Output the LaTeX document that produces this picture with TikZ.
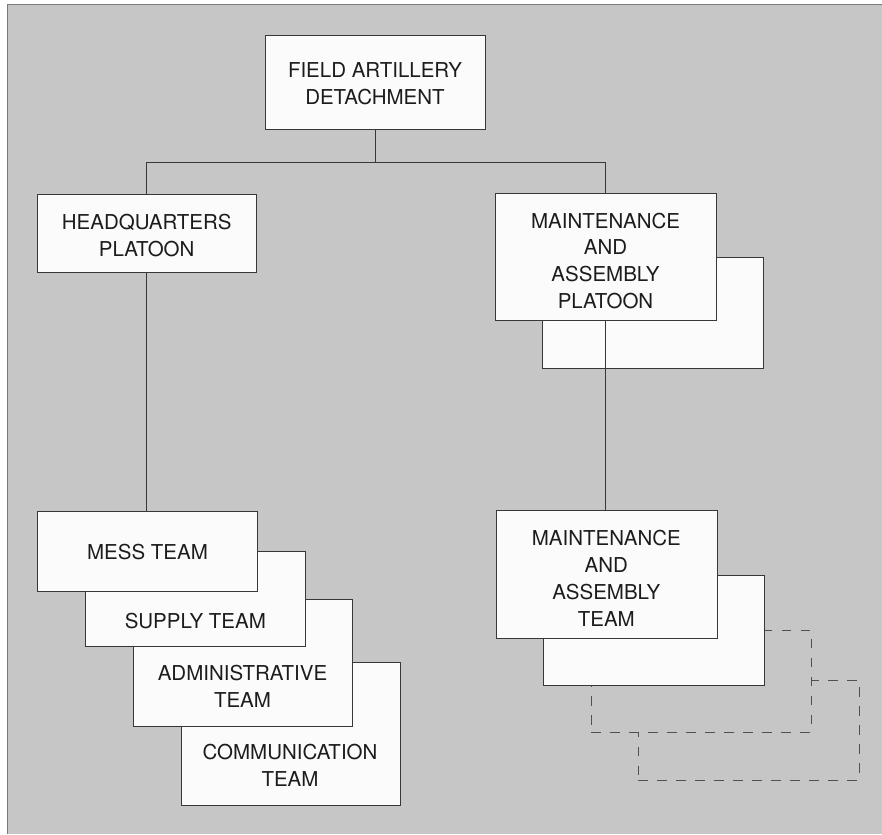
\documentclass[tikz,border=0pt]{standalone}
\usepackage{fontspec}
\setmainfont{TeX Gyre Heros}
\definecolor{bg}{HTML}{C6C6C6}
\definecolor{boxfill}{HTML}{FBFBFB}
\definecolor{linec}{HTML}{383838}
\definecolor{dashc}{HTML}{505050}
\definecolor{textc}{HTML}{1C1C1C}
\definecolor{framec}{HTML}{7A7A7A}
\tikzset{
  box/.style={draw=linec, fill=boxfill, line width=0.9pt, inner sep=0pt, outer sep=0pt},
  ghost/.style={draw=dashc, fill=bg, line width=1pt, dash pattern=on 9.5pt off 9.5pt, inner sep=0pt, outer sep=0pt},
  label/.style={text=textc, align=center, inner sep=0pt, font=\fontsize{20.5}{26.7}\selectfont},
  conn/.style={draw=linec, line width=0.9pt},
}
\begin{document}
\begin{tikzpicture}[x=1pt,y=-1pt]
\useasboundingbox (0,0) rectangle (882,834);
\fill[white] (0,0) rectangle (882,834);
\fill[bg] (7,5) rectangle (882,834);
\draw[framec, line width=1pt] (7,834) -- (7,5) -- (882,5);

% dashed (phantom) team boxes
\node[ghost, minimum width=220.7pt, minimum height=100pt] (ghostb) at (748.7,730) {};
\node[ghost, minimum width=220pt, minimum height=102pt] (ghosta) at (701,681) {};

% back boxes on the right
\node[box, minimum width=220.6pt, minimum height=110.6pt] (mapb) at (653,313) {};
\node[box, minimum width=221pt, minimum height=110.7pt] (matb) at (653.8,630.4) {};

% stacked team boxes on the left
\node[box, minimum width=218.3pt, minimum height=142.3pt] (comm) at (290.8,733.8) {};
\node[box, minimum width=219.4pt, minimum height=126.7pt] (admin) at (243,662.7) {};
\node[box, minimum width=219.7pt, minimum height=95.7pt] (supply) at (195.2,598.8) {};
\node[box, minimum width=219.3pt, minimum height=80pt] (mess) at (147.3,551.7) {};

% main boxes (geometry only; connectors need their names)
\coordinate (bus) at (0,162);
\path (375,82.5) node[minimum width=220pt, minimum height=93.5pt, inner sep=0pt, outer sep=0pt] (fad) {};
\path (146.75,233) node[minimum width=218.5pt, minimum height=78pt, inner sep=0pt, outer sep=0pt] (hq) {};
\path (605.5,256.7) node[minimum width=221pt, minimum height=126.7pt, inner sep=0pt, outer sep=0pt] (map) {};
\path (606.7,574.5) node[minimum width=221.3pt, minimum height=127.6pt, inner sep=0pt, outer sep=0pt] (mat) {};

% connectors
\draw[conn] (fad.south) -- (fad.south |- bus);
\draw[conn] (hq.north) -- (hq.north |- bus) -- (map.north |- bus) -- (map.north);
\draw[conn] (hq.south) -- (hq.south |- mess.north);
\draw[conn] (map.south) -- (map.south |- mat.north);

% front boxes
\node[box, minimum width=220pt, minimum height=93.5pt] (fadbox) at (fad) {};
\node[box, minimum width=218.5pt, minimum height=78pt] (hqbox) at (hq) {};
\node[box, minimum width=221pt, minimum height=126.7pt] (mapbox) at (map) {};
\node[box, minimum width=221.3pt, minimum height=127.6pt] (matbox) at (mat) {};

% texts
\node[label] (fadt) at (375,83.7) {FIELD ARTILLERY\\DETACHMENT};
\node[label] (hqt) at (146.7,235.3) {HEADQUARTERS\\PLATOON};
\node[label] (mapt) at (605.5,260.7) {MAINTENANCE\\AND\\ASSEMBLY\\PLATOON};
\node[label] (matt) at (606.3,578.3) {MAINTENANCE\\AND\\ASSEMBLY\\TEAM};
\node[label] (messt) at (147.5,551.7) {MESS TEAM};
\node[label] (supplyt) at (195.3,620.7) {SUPPLY TEAM};
\node[label] (admint) at (242.5,686.5) {ADMINISTRATIVE\\TEAM};
\node[label] (commt) at (290,765.5) {COMMUNICATION\\TEAM};
\end{tikzpicture}
\end{document}
